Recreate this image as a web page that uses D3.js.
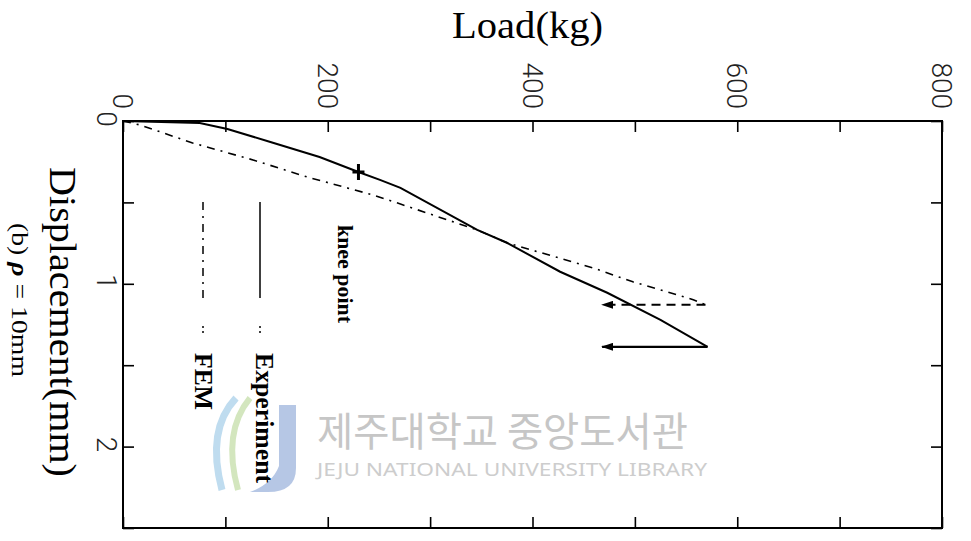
<!DOCTYPE html>
<html>
<head>
<meta charset="utf-8">
<script src="https://cdn.jsdelivr.net/npm/d3@7"></script>
<style>
  body { margin: 0; background: #fff; }
  svg { display: block; }
</style>
</head>
<body>
<svg id="chart" width="971" height="541"></svg>
<script>
// load (kg) vs displacement (mm)
var expLoad = [0, 75, 102, 144, 192, 230, 251, 271, 346, 375, 427, 473, 525, 571];
var expDisp = [0, 0.012, 0.049, 0.129, 0.221, 0.313, 0.362, 0.411, 0.669, 0.748, 0.926, 1.055, 1.221, 1.387];
var femLoad = [0, 17, 68, 127, 180, 244, 271, 346, 375, 459, 498, 525, 557, 569];
var femDisp = [0, 0.025, 0.135, 0.239, 0.344, 0.454, 0.51, 0.669, 0.748, 0.902, 0.988, 1.037, 1.098, 1.129];
// unloading arrows
var expArrowLoad = [571, 468];
var expArrowDisp = [1.387, 1.387];
var femArrowLoad = [569, 468];
var femArrowDisp = [1.129, 1.129];
var kneeLoad = [230];
var kneeDisp = [0.313];

var loadTicks = [0, 100, 200, 300, 400, 500, 600, 700, 800];
var loadLabels = [0, 200, 400, 600, 800];
var dispTicks = [0, 0.5, 1, 1.5, 2, 2.5];
var dispLabels = [0, 1, 2];

var svg = d3.select("#chart");
var x = d3.scaleLinear().domain([0, 800]).range([123, 942]);
var y = d3.scaleLinear().domain([0, 2.5]).range([121, 528]);

var defs = svg.append("defs");
defs.append("marker")
  .attr("id", "head")
  .attr("markerUnits", "userSpaceOnUse")
  .attr("viewBox", "0 0 12 8")
  .attr("markerWidth", 12)
  .attr("markerHeight", 8)
  .attr("refX", 11)
  .attr("refY", 4)
  .attr("orient", "auto")
  .append("path")
  .attr("d", "M0,0 L12,4 L0,8 z")
  .attr("fill", "#000");

// --- watermark (sits behind everything) ---
var wm = svg.append("g");
wm.append("path")
  .attr("d", "M279,405 L296,405 L296,468 Q296,492 268,492 L250,492 Q272,484 279,466 Z")
  .attr("fill", "#a9bde0")
  .attr("opacity", 0.85);
wm.append("path")
  .attr("d", "M236,398 Q206,430 222,490")
  .attr("fill", "none").attr("stroke", "#bfdcef").attr("stroke-width", 7);
wm.append("path")
  .attr("d", "M250,398 Q222,432 238,490")
  .attr("fill", "none").attr("stroke", "#d3e6be").attr("stroke-width", 6);
wm.append("text")
  .attr("x", 317).attr("y", 446)
  .attr("textLength", 371).attr("lengthAdjust", "spacingAndGlyphs")
  .style("font-family", "'Noto Sans CJK KR', sans-serif")
  .style("font-size", "40px")
  .attr("fill", "#c6c6c6")
  .text("제주대학교 중앙도서관");
wm.append("text")
  .attr("x", 317).attr("y", 476)
  .attr("textLength", 390).attr("lengthAdjust", "spacingAndGlyphs")
  .style("font-family", "'Noto Sans', sans-serif")
  .style("font-size", "18px")
  .attr("fill", "#cdcdcd")
  .text("JEJU NATIONAL UNIVERSITY LIBRARY");

// --- frame + ticks ---
svg.append("rect")
  .attr("x", x(0)).attr("y", y(0))
  .attr("width", x(800) - x(0)).attr("height", y(2.5) - y(0))
  .attr("fill", "none").attr("stroke", "#000").attr("stroke-width", 2);

function tickAxis(axis, tr) {
  var g = svg.append("g").attr("transform", tr).call(axis);
  g.select(".domain").remove();
  g.selectAll("line").attr("stroke", "#000").attr("stroke-width", 1.6);
  g.selectAll("text").remove();
}
tickAxis(d3.axisTop(x).tickValues(loadTicks).tickSize(-11), "translate(0," + y(0) + ")");
tickAxis(d3.axisBottom(x).tickValues(loadTicks).tickSize(-11), "translate(0," + y(2.5) + ")");
tickAxis(d3.axisLeft(y).tickValues(dispTicks).tickSize(-11), "translate(" + x(0) + ",0)");
tickAxis(d3.axisRight(y).tickValues(dispTicks).tickSize(-11), "translate(" + x(800) + ",0)");

// tick labels, turned 90 degrees like the scan
svg.append("g")
  .selectAll("text")
  .data(loadLabels)
  .enter()
  .append("text")
  .attr("transform", function (d) { return "translate(" + (x(d) - 10) + ",109) rotate(90)"; })
  .attr("text-anchor", "end")
  .style("font-family", "Roboto, 'Liberation Sans', sans-serif")
  .style("font-weight", 300)
  .style("font-size", "28px")
  .attr("fill", "#222")
  .text(function (d) { return d; });

svg.append("g")
  .selectAll("text")
  .data(dispLabels)
  .enter()
  .append("text")
  .attr("transform", function (d) { return "translate(97," + (y(d) - 2) + ") rotate(90)"; })
  .attr("text-anchor", "middle")
  .style("font-family", "Roboto, 'Liberation Sans', sans-serif")
  .style("font-weight", 300)
  .style("font-size", "28px")
  .attr("fill", "#222")
  .text(function (d) { return d; });

// axis titles
svg.append("text")
  .attr("x", 452).attr("y", 38)
  .attr("textLength", 151).attr("lengthAdjust", "spacingAndGlyphs")
  .style("font-family", "'Liberation Serif', serif")
  .style("font-size", "38px")
  .text("Load(kg)");

svg.append("text")
  .attr("transform", "translate(50,167) rotate(90)")
  .attr("textLength", 310).attr("lengthAdjust", "spacingAndGlyphs")
  .style("font-family", "'Liberation Serif', serif")
  .style("font-size", "38px")
  .text("Displacement(mm)");

var cap = svg.append("text")
  .attr("transform", "translate(12,223) rotate(90)")
  .attr("textLength", 154).attr("lengthAdjust", "spacingAndGlyphs")
  .style("font-family", "'Liberation Serif', serif")
  .style("font-size", "24px");
cap.append("tspan").text("(b) ");
cap.append("tspan").style("font-weight", "bold").style("font-style", "italic").text("ρ");
cap.append("tspan").text(" = 10mm");

// --- curves ---
var line = d3.line()
  .x(function (d) { return x(d[0]); })
  .y(function (d) { return y(d[1]); });

svg.append("path")
  .datum(d3.zip(femLoad, femDisp))
  .attr("d", line)
  .attr("fill", "none")
  .attr("stroke", "#000")
  .attr("stroke-width", 1.6)
  .attr("stroke-dasharray", "8,6,2,6");

svg.append("path")
  .datum(d3.zip(expLoad, expDisp))
  .attr("d", line)
  .attr("fill", "none")
  .attr("stroke", "#000")
  .attr("stroke-width", 2);

svg.append("path")
  .datum(d3.zip(femArrowLoad, femArrowDisp))
  .attr("d", line)
  .attr("fill", "none")
  .attr("stroke", "#000")
  .attr("stroke-width", 2)
  .attr("stroke-dasharray", "9,6")
  .attr("marker-end", "url(#head)");

svg.append("path")
  .datum(d3.zip(expArrowLoad, expArrowDisp))
  .attr("d", line)
  .attr("fill", "none")
  .attr("stroke", "#000")
  .attr("stroke-width", 2.2)
  .attr("marker-end", "url(#head)");

// knee point mark
svg.append("g")
  .selectAll("path")
  .data(d3.zip(kneeLoad, kneeDisp))
  .enter()
  .append("path")
  .attr("d", function (d) {
    var cx = x(d[0]), cy = y(d[1]);
    return "M" + cx + "," + (cy - 8) + "V" + (cy + 8) + "M" + (cx - 6) + "," + cy + "H" + (cx + 6);
  })
  .attr("stroke", "#000")
  .attr("stroke-width", 3);

svg.append("text")
  .attr("transform", "translate(338,225) rotate(90)")
  .attr("textLength", 98).attr("lengthAdjust", "spacingAndGlyphs")
  .style("font-family", "'Liberation Serif', serif")
  .style("font-weight", "bold")
  .style("font-size", "22px")
  .text("knee point");

// --- legend (vertical, like the rest of the scan) ---
var legend = [
  { name: "Experiment", lx: 260, tx: 256, dash: null, len: 130 },
  { name: "FEM", lx: 203, tx: 195, dash: "8,6,2,6", len: 57 }
];
var lg = svg.append("g").selectAll("g").data(legend).enter().append("g");
lg.append("line")
  .attr("x1", function (d) { return d.lx; }).attr("x2", function (d) { return d.lx; })
  .attr("y1", 202).attr("y2", 298)
  .attr("stroke", "#000").attr("stroke-width", 1.5)
  .attr("stroke-dasharray", function (d) { return d.dash; });
lg.append("line")
  .attr("x1", function (d) { return d.lx; }).attr("x2", function (d) { return d.lx; })
  .attr("y1", 326).attr("y2", 333)
  .attr("stroke", "#000").attr("stroke-width", 1.5)
  .attr("stroke-dasharray", "2,3");
lg.append("text")
  .attr("transform", function (d) { return "translate(" + d.tx + ",353) rotate(90)"; })
  .attr("textLength", function (d) { return d.len; })
  .attr("lengthAdjust", "spacingAndGlyphs")
  .style("font-family", "'Liberation Serif', serif")
  .style("font-weight", "bold")
  .style("font-size", "26px")
  .text(function (d) { return d.name; });
</script>
</body>
</html>
